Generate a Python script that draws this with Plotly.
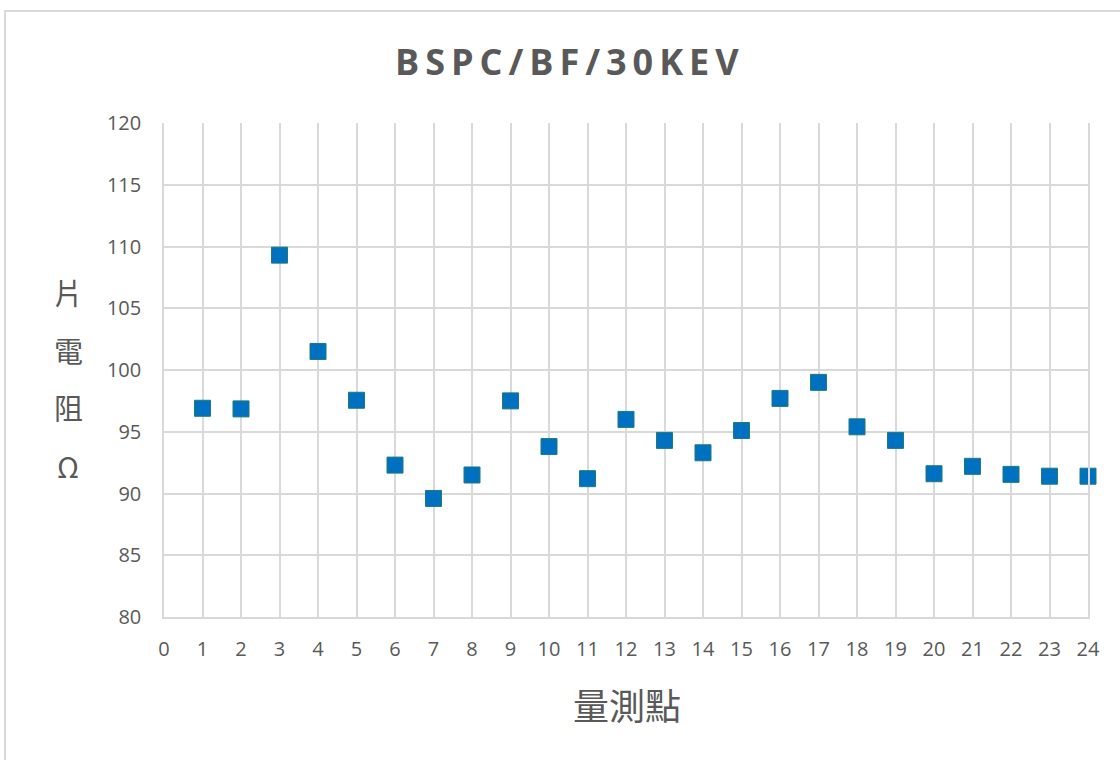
import plotly.graph_objects as go

points = list(range(1, 25))
resistance = [96.9, 96.85, 109.3, 101.5, 97.55, 92.3, 89.6, 91.5, 97.5, 93.8,
              91.2, 96.0, 94.3, 93.3, 95.1, 97.7, 99.0, 95.4, 94.3, 91.6,
              92.2, 91.55, 91.4, 91.4]
x_ticks = list(range(0, 25))
y_ticks = list(range(80, 121, 5))
title_text = "BSPC/BF/30KEV"
x_title = "量測點"
y_title_chars = ["片", "電", "阻", "Ω"]

L, R, T, B = 164, 32, 123, 143
W, H = 1120, 760
pw, ph = W - L - R, H - T - B

fig = go.Figure()
fig.add_trace(go.Scatter(
    x=points, y=resistance, mode="markers",
    marker=dict(symbol="square", size=16, color="#0070C0",
                line=dict(color="#1F7A78", width=1)),
    showlegend=False, cliponaxis=False,
))

grid = "#D9D9D9"
tickfont = dict(family="Open Sans, Calibri, sans-serif", size=20, color="#595959")
fig.update_xaxes(range=[0, 24], tickvals=x_ticks, showgrid=True, gridcolor=grid,
                 gridwidth=1.5, zeroline=False, showline=True, linecolor=grid,
                 linewidth=1.5, tickfont=tickfont, ticks="", ticklabelstandoff=13)
fig.update_yaxes(range=[80, 120], tickvals=y_ticks, showgrid=True, gridcolor=grid,
                 gridwidth=1.5, zeroline=False, showline=True, linecolor=grid,
                 linewidth=1.5, mirror=True, tickfont=tickfont, ticks="",
                 ticklabelstandoff=17)

def px_x(p):
    return (p - L) / pw

def px_y(p):
    return (H - B - p) / ph

annotations = [
    dict(text="<b>" + "\u2009".join(title_text) + "</b>", x=px_x(567), y=px_y(62),
         xref="paper", yref="paper", showarrow=False,
         font=dict(family="Open Sans, sans-serif", size=36, color="#595959"),
         xanchor="center", yanchor="middle"),
    dict(text=x_title, x=px_x(627), y=px_y(704), xref="paper", yref="paper",
         showarrow=False, xanchor="center", yanchor="middle",
         font=dict(family="Noto Sans CJK TC, sans-serif", size=36, color="#595959")),
]
for i, ch in enumerate(y_title_chars):
    annotations.append(dict(text=ch, x=px_x(68), y=px_y(292 + 57.5 * i),
                            xref="paper", yref="paper", showarrow=False,
                            xanchor="center", yanchor="middle",
                            font=dict(family="Noto Sans CJK TC, sans-serif",
                                      size=29, color="#595959")))

fig.update_layout(
    width=W, height=H, margin=dict(l=L, r=R, t=T, b=B),
    paper_bgcolor="white", plot_bgcolor="white",
    annotations=annotations,
    shapes=[dict(type="rect", xref="paper", yref="paper",
                 x0=px_x(5), x1=px_x(1200), y0=px_y(800), y1=px_y(11),
                 line=dict(color="#D9D9D9", width=2), layer="below")],
)
fig.write_html("out.html", config={"displayModeBar": False},
               post_script="document.body.style.margin='0';document.body.style.overflow='hidden';")
